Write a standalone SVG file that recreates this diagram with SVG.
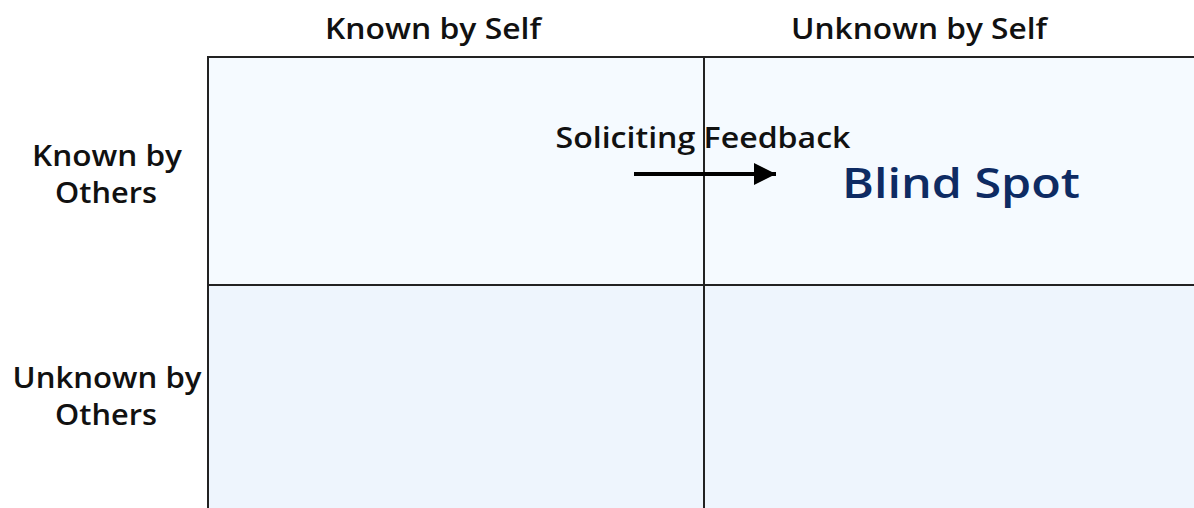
<svg xmlns="http://www.w3.org/2000/svg" width="1194" height="508" viewBox="0 0 1194 508">
<style>
.lbl{font-family:"Open Sans","DejaVu Sans","Liberation Sans",sans-serif;font-weight:600;font-size:29px;fill:#111;text-anchor:middle}
.big{font-family:"Open Sans","DejaVu Sans","Liberation Sans",sans-serif;font-weight:600;font-size:42px;fill:#0e2b63;text-anchor:middle}
.cell{stroke:#222;stroke-width:2}
.top{fill:#f5faff}
.bot{fill:#eef5fd}
</style>
<defs>
<marker id="ah" markerWidth="5.5" markerHeight="5.5" refX="5.5" refY="2.75" orient="auto" markerUnits="strokeWidth">
<path d="M0,0 L5.5,2.75 L0,5.5 Z" fill="#000"/>
</marker>
</defs>
<rect width="1194" height="508" fill="#fff"/>
<g id="q-tl"><rect class="cell top" x="208" y="57" width="496" height="228"/></g>
<g id="q-tr"><rect class="cell top" x="704" y="57" width="500" height="228"/>
<text class="big" x="961" y="198" textLength="238" lengthAdjust="spacingAndGlyphs">Blind Spot</text></g>
<g id="q-bl"><rect class="cell bot" x="208" y="285" width="496" height="240"/></g>
<g id="q-br"><rect class="cell bot" x="704" y="285" width="500" height="240"/></g>
<g id="header-known-self"><text class="lbl" x="433" y="39" textLength="216" lengthAdjust="spacingAndGlyphs">Known by Self</text></g>
<g id="header-unknown-self"><text class="lbl" x="919" y="39" textLength="256" lengthAdjust="spacingAndGlyphs">Unknown by Self</text></g>
<g id="row-known-others"><text class="lbl" x="107" y="166" textLength="150" lengthAdjust="spacingAndGlyphs">Known by</text><text class="lbl" x="106" y="203" textLength="102" lengthAdjust="spacingAndGlyphs">Others</text></g>
<g id="row-unknown-others"><text class="lbl" x="107" y="388" textLength="189" lengthAdjust="spacingAndGlyphs">Unknown by</text><text class="lbl" x="106" y="425" textLength="102" lengthAdjust="spacingAndGlyphs">Others</text></g>
<g id="connectors">
<line x1="634" y1="174" x2="776" y2="174" stroke="#000" stroke-width="4" marker-end="url(#ah)"/>
<text class="lbl" x="703" y="148" textLength="295" lengthAdjust="spacingAndGlyphs">Soliciting Feedback</text>
</g>
</svg>
